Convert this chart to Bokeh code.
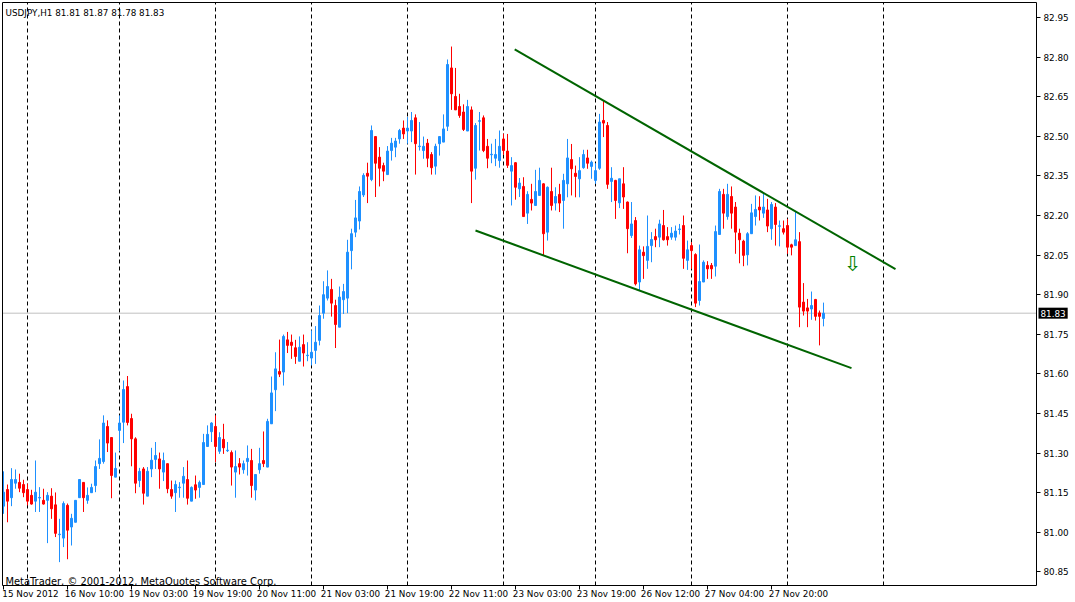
from bokeh.plotting import figure
from bokeh.models import Range1d, FixedTicker, Label, LinearAxis
from bokeh.embed import file_html
from bokeh.resources import INLINE
from bokeh.core.properties import value

# ---------------- data (USDJPY H1) ----------------
opens = [81.099, 81.162, 81.131, 81.186, 81.189, 81.181, 81.162, 81.140, 81.118, 81.130,
         81.121, 81.121, 81.137, 81.104, 80.991, 80.978, 81.102, 81.020, 81.038, 81.131,
         81.189, 81.121, 81.150, 81.177, 81.260, 81.268, 81.401, 81.359, 81.209, 81.386,
         81.417, 81.552, 81.431, 81.354, 81.196, 81.240, 81.137, 81.240, 81.276, 81.278,
         81.228, 81.260, 81.162, 81.150, 81.169, 81.186, 81.200, 81.118, 81.180, 81.170,
         81.181, 81.325, 81.381, 81.401, 81.307, 81.352, 81.309, 81.302, 81.228, 81.260,
         81.237, 81.268, 81.272, 81.160, 81.237, 81.272, 81.247, 81.411, 81.540, 81.609,
         81.607, 81.729, 81.720, 81.699, 81.648, 81.711, 81.669, 81.660, 81.689, 81.727,
         81.830, 81.887, 81.920, 81.859, 81.777, 81.881, 81.887, 82.067, 82.137, 82.179,
         82.278, 82.360, 82.336, 82.499, 82.421, 82.389, 82.355, 82.446, 82.459, 82.490,
         82.531, 82.520, 82.520, 82.570, 82.461, 82.446, 82.474, 82.431, 82.387, 82.472,
         82.478, 82.538, 82.759, 82.651, 82.613, 82.592, 82.520, 82.600, 82.379, 82.557,
         82.570, 82.462, 82.430, 82.417, 82.408, 82.490, 82.444, 82.368, 82.400, 82.301,
         82.310, 82.209, 82.261, 82.238, 82.276, 82.320, 82.137, 82.291, 82.247, 82.280,
         82.257, 82.320, 82.412, 82.360, 82.339, 82.381, 82.418, 82.386, 82.333, 82.379,
         82.560, 82.541, 82.329, 82.333, 82.248, 82.320, 82.251, 82.124, 82.181, 81.948,
         82.061, 82.030, 82.086, 82.120, 82.118, 82.162, 82.120, 82.118, 82.118, 82.147,
         82.162, 82.030, 82.086, 82.052, 81.878, 81.948, 82.011, 82.011, 82.008, 82.128,
         82.280, 82.196, 82.272, 82.232, 82.133, 82.103, 82.051, 82.131, 82.196, 82.232,
         82.209, 82.221, 82.150, 82.232, 82.159, 82.150, 82.162, 82.089, 82.086, 82.101,
         81.872, 81.850, 81.846, 81.882, 81.831, 81.810]
highs = [81.231, 81.181, 81.243, 81.238, 81.222, 81.199, 81.184, 81.161, 81.272, 81.171,
         81.165, 81.152, 81.167, 81.151, 81.051, 81.117, 81.109, 81.070, 81.121, 81.200,
         81.189, 81.170, 81.184, 81.272, 81.352, 81.443, 81.424, 81.359, 81.302, 81.443,
         81.575, 81.592, 81.449, 81.360, 81.244, 81.247, 81.247, 81.320, 81.342, 81.302,
         81.302, 81.260, 81.196, 81.196, 81.190, 81.247, 81.272, 81.174, 81.215, 81.196,
         81.373, 81.405, 81.417, 81.443, 81.379, 81.411, 81.342, 81.310, 81.310, 81.281,
         81.272, 81.329, 81.316, 81.219, 81.320, 81.382, 81.430, 81.590, 81.682, 81.730,
         81.749, 81.759, 81.749, 81.729, 81.742, 81.749, 81.720, 81.765, 81.781, 81.859,
         81.951, 81.992, 81.960, 81.881, 81.931, 81.941, 82.108, 82.150, 82.259, 82.310,
         82.360, 82.400, 82.541, 82.500, 82.459, 82.400, 82.463, 82.494, 82.494, 82.528,
         82.560, 82.573, 82.592, 82.583, 82.554, 82.499, 82.490, 82.440, 82.472, 82.500,
         82.583, 82.791, 82.840, 82.759, 82.661, 82.621, 82.638, 82.613, 82.550, 82.592,
         82.579, 82.490, 82.472, 82.490, 82.522, 82.510, 82.509, 82.421, 82.402, 82.342,
         82.345, 82.292, 82.320, 82.373, 82.381, 82.322, 82.310, 82.381, 82.307, 82.320,
         82.358, 82.490, 82.471, 82.389, 82.421, 82.449, 82.449, 82.408, 82.398, 82.585,
         82.636, 82.554, 82.383, 82.335, 82.339, 82.383, 82.253, 82.251, 82.194, 82.086,
         82.083, 82.200, 82.137, 82.150, 82.184, 82.221, 82.156, 82.156, 82.162, 82.168,
         82.200, 82.105, 82.099, 82.057, 82.090, 82.030, 82.027, 82.020, 82.162, 82.301,
         82.301, 82.320, 82.310, 82.251, 82.150, 82.108, 82.137, 82.244, 82.276, 82.273,
         82.282, 82.263, 82.251, 82.247, 82.181, 82.181, 82.187, 82.093, 82.213, 82.137,
         81.944, 81.884, 81.912, 81.884, 81.840, 81.870]
lows = [81.070, 81.038, 81.099, 81.165, 81.152, 81.133, 81.102, 81.105, 81.077, 81.077,
        81.105, 80.959, 81.051, 80.982, 80.887, 80.944, 80.898, 80.950, 81.038, 81.131,
        81.077, 81.108, 81.150, 81.152, 81.240, 81.260, 81.304, 81.129, 81.209, 81.307,
        81.338, 81.405, 81.250, 81.148, 81.171, 81.105, 81.137, 81.209, 81.240, 81.165,
        81.194, 81.148, 81.127, 81.077, 81.131, 81.131, 81.105, 81.118, 81.127, 81.131,
        81.181, 81.325, 81.342, 81.266, 81.297, 81.297, 81.304, 81.177, 81.131, 81.219,
        81.222, 81.215, 81.131, 81.121, 81.222, 81.247, 81.247, 81.411, 81.459, 81.588,
        81.556, 81.679, 81.657, 81.638, 81.648, 81.628, 81.648, 81.632, 81.638, 81.708,
        81.809, 81.878, 81.817, 81.698, 81.777, 81.827, 81.830, 81.996, 82.118, 82.147,
        82.270, 82.247, 82.330, 82.270, 82.310, 82.330, 82.355, 82.408, 82.421, 82.472,
        82.490, 82.472, 82.478, 82.355, 82.446, 82.415, 82.383, 82.355, 82.355, 82.427,
        82.478, 82.520, 82.600, 82.600, 82.570, 82.520, 82.520, 82.247, 82.336, 82.446,
        82.440, 82.379, 82.398, 82.387, 82.381, 82.430, 82.380, 82.238, 82.260, 82.270,
        82.196, 82.168, 82.219, 82.238, 82.276, 82.049, 82.105, 82.219, 82.219, 82.213,
        82.150, 82.269, 82.276, 82.269, 82.269, 82.377, 82.377, 82.339, 82.320, 82.373,
        82.497, 82.301, 82.251, 82.187, 82.228, 82.225, 82.057, 82.115, 81.935, 81.916,
        81.960, 81.998, 82.023, 82.080, 82.080, 82.105, 82.086, 82.108, 82.105, 82.128,
        81.998, 81.994, 81.998, 81.853, 81.859, 81.948, 81.960, 81.960, 81.969, 82.128,
        82.150, 82.184, 82.150, 82.055, 82.019, 82.008, 82.011, 82.131, 82.162, 82.181,
        82.191, 82.137, 82.108, 82.086, 82.083, 82.128, 82.055, 82.049, 82.086, 81.777,
        81.821, 81.777, 81.805, 81.802, 81.708, 81.780]
closes = [81.152, 81.118, 81.200, 81.200, 81.167, 81.150, 81.118, 81.107, 81.152, 81.132,
          81.107, 81.140, 81.089, 80.996, 80.993, 81.109, 81.008, 81.053, 81.121, 81.200,
          81.131, 81.140, 81.170, 81.249, 81.280, 81.414, 81.338, 81.215, 81.242, 81.414,
          81.541, 81.416, 81.354, 81.186, 81.231, 81.148, 81.231, 81.273, 81.291, 81.240,
          81.272, 81.165, 81.137, 81.181, 81.171, 81.212, 81.129, 81.170, 81.160, 81.189,
          81.340, 81.371, 81.414, 81.325, 81.359, 81.320, 81.311, 81.247, 81.249, 81.247,
          81.260, 81.280, 81.177, 81.219, 81.260, 81.260, 81.420, 81.528, 81.619, 81.599,
          81.742, 81.708, 81.708, 81.666, 81.701, 81.679, 81.671, 81.682, 81.720, 81.821,
          81.900, 81.931, 81.868, 81.787, 81.891, 81.912, 82.061, 82.131, 82.191, 82.291,
          82.352, 82.349, 82.522, 82.398, 82.379, 82.368, 82.444, 82.474, 82.482, 82.522,
          82.509, 82.531, 82.560, 82.472, 82.463, 82.462, 82.417, 82.381, 82.462, 82.499,
          82.528, 82.772, 82.661, 82.600, 82.579, 82.526, 82.613, 82.368, 82.541, 82.559,
          82.446, 82.417, 82.432, 82.431, 82.462, 82.446, 82.390, 82.389, 82.307, 82.323,
          82.196, 82.280, 82.247, 82.291, 82.333, 82.131, 82.307, 82.238, 82.272, 82.247,
          82.333, 82.418, 82.377, 82.348, 82.370, 82.431, 82.398, 82.402, 82.370, 82.554,
          82.550, 82.318, 82.341, 82.257, 82.339, 82.270, 82.150, 82.168, 81.941, 82.070,
          82.048, 82.083, 82.109, 82.108, 82.168, 82.108, 82.108, 82.133, 82.141, 82.149,
          82.038, 82.070, 82.067, 81.868, 81.950, 82.023, 81.998, 81.998, 82.139, 82.291,
          82.209, 82.280, 82.209, 82.137, 82.108, 82.049, 82.131, 82.210, 82.223, 82.221,
          82.232, 82.160, 82.242, 82.166, 82.161, 82.137, 82.080, 82.080, 82.108, 81.853,
          81.838, 81.838, 81.859, 81.818, 81.818, 81.830]

x_tick_bars = [0, 16, 32, 48, 64, 80, 96, 112, 128, 144, 160, 176, 192]
x_tick_labels = ["15 Nov 2012", "16 Nov 10:00", "19 Nov 03:00", "19 Nov 19:00",
                 "20 Nov 11:00", "21 Nov 03:00", "21 Nov 19:00", "22 Nov 11:00",
                 "23 Nov 03:00", "23 Nov 19:00", "26 Nov 12:00", "27 Nov 04:00",
                 "27 Nov 20:00"]
y_ticks = [80.85, 81.00, 81.15, 81.30, 81.45, 81.60, 81.75, 81.90,
           82.05, 82.20, 82.35, 82.50, 82.65, 82.80, 82.95]
y_tick_labels = ["%.2f" % t for t in y_ticks]
separator_bars = [6, 29, 53, 77, 101, 125, 148, 172, 196, 220]
upper_line_x = [127.8, 223.0]
upper_line_y = [82.829, 81.997]
lower_line_x = [118.0, 212.0]
lower_line_y = [82.143, 81.622]
arrow_x = [212.3]
arrow_y = [82.017]
last_price = 81.83
title_text = "USDJPY,H1  81.81 81.87 81.78 81.83"
copyright_text = "MetaTrader, \u00a9 2001-2012, MetaQuotes Software Corp."

# ---------------- geometry ----------------
W, H = 1075, 602
PX_PER_BAR = 4.0          # MetaTrader zoom: 4 px per bar
PX_PER_UNIT = 264.0       # pixels per 1.00 of price
CX0 = -0.75               # bar index at the left canvas edge
CY1 = 83.0144             # price at the top canvas edge
CX1 = CX0 + W / PX_PER_BAR
CY0 = CY1 - H / PX_PER_UNIT
X_LEFT, X_RIGHT = -0.25, 258.25      # chart window (bars)
Y_BOT, Y_TOP = 80.7985, 83.0068      # chart window (price)


def dx(px):
    return px / PX_PER_BAR


def dy(px):
    return px / PX_PER_UNIT


FONT = "DejaVu Sans"
FS = "8.8px"

p = figure(width=W, height=H, x_range=Range1d(CX0, CX1), y_range=Range1d(CY0, CY1),
           output_backend="svg", toolbar_location=None,
           x_axis_location=None, y_axis_location=None,
           min_border_left=0, min_border_right=0, min_border_top=0, min_border_bottom=0,
           background_fill_color="white", border_fill_color="white")
p.xgrid.visible = False
p.ygrid.visible = False
p.outline_line_color = None


def base_axis(ax):
    ax.major_tick_in = 0
    ax.minor_tick_in = 0
    ax.minor_tick_out = 0
    ax.axis_line_color = "black"
    ax.major_tick_line_color = "black"
    ax.major_label_text_font = FONT
    ax.major_label_text_font_size = FS
    ax.major_label_text_color = "black"
    return ax


# price axis (right)
ya = base_axis(LinearAxis(fixed_location=X_RIGHT, bounds=(Y_BOT, Y_TOP),
                          ticker=FixedTicker(ticks=y_ticks)))
ya.major_label_overrides = {t: l for t, l in zip(y_ticks, y_tick_labels)}
ya.major_tick_out = 4
ya.major_label_standoff = 3
p.add_layout(ya, "right")

# time axis (below): tick marks
xa = base_axis(LinearAxis(fixed_location=Y_BOT, bounds=(X_LEFT, X_RIGHT),
                          ticker=FixedTicker(ticks=x_tick_bars)))
xa.major_label_overrides = {b: "" for b in x_tick_bars}
xa.major_tick_out = 4
p.add_layout(xa, "below")

# time axis (below): labels, left-aligned to their tick like MetaTrader
LABEL_SHIFT = 6.75
lab_pos = [b + LABEL_SHIFT for b in x_tick_bars]
xl = base_axis(LinearAxis(fixed_location=Y_BOT, ticker=FixedTicker(ticks=lab_pos)))
xl.major_label_overrides = {b: t for b, t in zip(lab_pos, x_tick_labels)}
xl.axis_line_color = None
xl.major_tick_line_color = None
xl.major_tick_out = 0
xl.major_label_standoff = 4
p.add_layout(xl, "below")

# left and top window borders
lb = LinearAxis(fixed_location=X_LEFT, bounds=(Y_BOT, Y_TOP), ticker=FixedTicker(ticks=[]),
                axis_line_color="black", major_label_text_font_size="0px")
p.add_layout(lb, "left")
tb = LinearAxis(fixed_location=Y_TOP, bounds=(X_LEFT, X_RIGHT), ticker=FixedTicker(ticks=[]),
                axis_line_color="black", major_label_text_font_size="0px")
p.add_layout(tb, "above")

# period separators and bid line
p.segment(x0=separator_bars, y0=[Y_BOT] * len(separator_bars),
          x1=separator_bars, y1=[Y_TOP] * len(separator_bars),
          line_color="black", line_width=1, line_dash="4 3")
p.segment(x0=[X_LEFT], y0=[last_price], x1=[X_RIGHT], y1=[last_price],
          line_color="#C0C0C0", line_width=1)

# candles
idx = list(range(len(opens)))
colors = ["#1E90FF" if c >= o else "#FF0000" for o, c in zip(opens, closes)]
tops = [max(o, c) for o, c in zip(opens, closes)]
bots = [min(o, c) for o, c in zip(opens, closes)]
p.segment(x0=idx, y0=lows, x1=idx, y1=highs, line_color=colors, line_width=1)
p.vbar(x=idx, width=0.5, top=tops, bottom=bots, fill_color=colors,
       line_color=colors, line_width=1)

# trend lines
p.line(upper_line_x, upper_line_y, line_color="#006400", line_width=2)
p.line(lower_line_x, lower_line_y, line_color="#006400", line_width=2)

# arrow object
p.text(x=arrow_x, y=arrow_y, text=["\u21e9"], text_font=value(FONT),
       text_font_size="21px", text_color="#008000", text_align="center",
       text_baseline="middle")

# texts
p.add_layout(Label(x=X_LEFT + dx(3), y=CY1 - dy(12.5), text=title_text,
                   text_font=FONT, text_font_size=FS, text_color="black",
                   text_align="left", text_baseline="alphabetic"))
p.add_layout(Label(x=X_LEFT + dx(3), y=CY1 - dy(581), text=copyright_text,
                   text_font=FONT, text_font_size="9.9px", text_color="black",
                   text_align="left", text_baseline="alphabetic"))
p.add_layout(Label(x=X_RIGHT + dx(2), y=last_price, text="%.2f" % last_price,
                   text_font=FONT, text_font_size=FS, text_color="white",
                   text_align="left", text_baseline="middle",
                   background_fill_color="black", padding=2))

open("out.html", "w").write(file_html(p, INLINE))
